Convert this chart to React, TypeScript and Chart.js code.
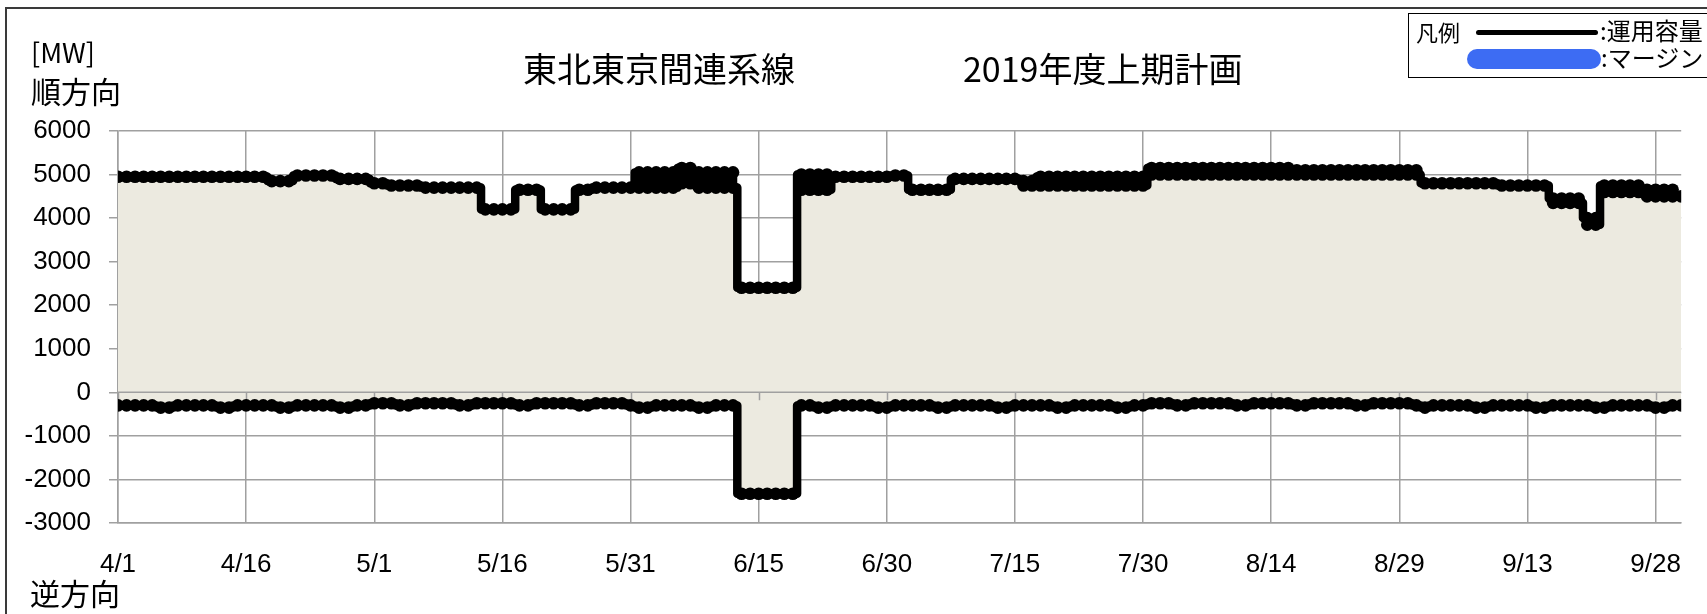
import React, { useEffect, useRef } from 'react';
import { Chart, registerables } from 'chart.js';

Chart.register(...registerables);

// x axis: day index from 4/1 (0) to 10/1 (183)
const xTickDays = [0, 15, 30, 45, 60, 75, 90, 105, 120, 135, 150, 165, 180];
const xTickLabels = ['4/1', '4/16', '5/1', '5/16', '5/31', '6/15', '6/30', '7/15', '7/30', '8/14', '8/29', '9/13', '9/28'];
const yMin = -3000;
const yMax = 6000;
const yStep = 1000;

// 順方向 運用容量: daily upper value (one row = one week, Mon..Sun)
const forwardHigh = [
  4950, 4950, 4950, 4950, 4950, 4950, 4950,
  4950, 4950, 4950, 4950, 4950, 4950, 4950,
  4950, 4950, 4950, 4950, 4850, 4850, 4850,
  4980, 4980, 4980, 4980, 4980, 4900, 4900,
  4900, 4900, 4800, 4800, 4750, 4750, 4750,
  4750, 4700, 4700, 4700, 4700, 4700, 4700,
  4700, 4200, 4200, 4200, 4200, 4650, 4650,
  4650, 4200, 4200, 4200, 4200, 4650, 4650,
  4700, 4700, 4700, 4700, 4700, 5050, 5050,
  5050, 5050, 5050, 5150, 5150, 5050, 5050,
  5050, 5050, 5050, 2400, 2400, 2400, 2400,
  2400, 2400, 2400, 5000, 5000, 5000, 5000,
  4950, 4950, 4950, 4950, 4950, 4950, 4950,
  4980, 4980, 4650, 4650, 4650, 4650, 4650,
  4900, 4900, 4900, 4900, 4900, 4900, 4900,
  4900, 4850, 4850, 4950, 4950, 4950, 4950,
  4950, 4950, 4950, 4950, 4950, 4950, 4950,
  4950, 4950, 5150, 5150, 5150, 5150, 5150,
  5150, 5150, 5150, 5150, 5150, 5150, 5150,
  5150, 5150, 5150, 5150, 5150, 5100, 5100,
  5100, 5100, 5100, 5100, 5100, 5100, 5100,
  5100, 5100, 5100, 5100, 5100, 5100, 4800,
  4800, 4800, 4800, 4800, 4800, 4800, 4800,
  4800, 4750, 4750, 4750, 4750, 4750, 4750,
  4450, 4450, 4450, 4450, 4000, 4000, 4750,
  4750, 4750, 4750, 4750, 4650, 4650, 4650,
  4650, 4500,
];

// 順方向 運用容量: daily lower value (within-day minimum)
const forwardLow = [
  4950, 4950, 4950, 4950, 4950, 4950, 4950,
  4950, 4950, 4950, 4950, 4950, 4950, 4950,
  4950, 4950, 4950, 4950, 4850, 4850, 4850,
  4980, 4980, 4980, 4980, 4980, 4900, 4900,
  4900, 4900, 4800, 4800, 4750, 4750, 4750,
  4750, 4700, 4700, 4700, 4700, 4700, 4700,
  4700, 4200, 4200, 4200, 4200, 4650, 4650,
  4650, 4200, 4200, 4200, 4200, 4650, 4650,
  4700, 4700, 4700, 4700, 4700, 4700, 4700,
  4700, 4700, 4700, 4800, 4800, 4700, 4700,
  4700, 4700, 4700, 2400, 2400, 2400, 2400,
  2400, 2400, 2400, 4650, 4650, 4650, 4650,
  4950, 4950, 4950, 4950, 4950, 4950, 4950,
  4980, 4980, 4650, 4650, 4650, 4650, 4650,
  4900, 4900, 4900, 4900, 4900, 4900, 4900,
  4900, 4750, 4750, 4750, 4750, 4750, 4750,
  4750, 4750, 4750, 4750, 4750, 4750, 4750,
  4750, 4750, 5000, 5000, 5000, 5000, 5000,
  5000, 5000, 5000, 5000, 5000, 5000, 5000,
  5000, 5000, 5000, 5000, 5000, 5000, 5000,
  5000, 5000, 5000, 5000, 5000, 5000, 5000,
  5000, 5000, 5000, 5000, 5000, 5000, 4800,
  4800, 4800, 4800, 4800, 4800, 4800, 4800,
  4800, 4750, 4750, 4750, 4750, 4750, 4750,
  4350, 4350, 4350, 4350, 3850, 3850, 4600,
  4600, 4600, 4600, 4600, 4500, 4500, 4500,
  4500, 4500,
];

// 逆方向 運用容量 (negative side)
const reverseCapacity = [
  -300, -300, -300, -300, -300, -350, -350,
  -300, -300, -300, -300, -300, -350, -350,
  -300, -300, -300, -300, -300, -350, -350,
  -300, -300, -300, -300, -300, -350, -350,
  -300, -300, -250, -250, -250, -300, -300,
  -250, -250, -250, -250, -250, -300, -300,
  -250, -250, -250, -250, -250, -300, -300,
  -250, -250, -250, -250, -250, -300, -300,
  -250, -250, -250, -250, -300, -350, -350,
  -300, -300, -300, -300, -300, -350, -350,
  -300, -300, -300, -2330, -2330, -2330, -2330,
  -2330, -2330, -2330, -300, -300, -350, -350,
  -300, -300, -300, -300, -300, -350, -350,
  -300, -300, -300, -300, -300, -350, -350,
  -300, -300, -300, -300, -300, -350, -350,
  -300, -300, -300, -300, -300, -350, -350,
  -300, -300, -300, -300, -300, -350, -350,
  -300, -300, -250, -250, -250, -300, -300,
  -250, -250, -250, -250, -250, -300, -300,
  -250, -250, -250, -250, -250, -300, -300,
  -250, -250, -250, -250, -250, -300, -300,
  -250, -250, -250, -250, -250, -300, -350,
  -300, -300, -300, -300, -300, -350, -350,
  -300, -300, -300, -300, -300, -350, -350,
  -300, -300, -300, -300, -300, -350, -350,
  -300, -300, -300, -300, -300, -350, -350,
  -300, -300,
];

const GRID = '#a0a0a0';
const FILL = '#ECEAE0';
const TICK_FONT = "'Liberation Sans', Arial, sans-serif";
const JP_FONT = "'Noto Sans CJK JP', 'Noto Sans', sans-serif";

const zeroAxisPlugin = {
  id: 'zeroAxis',
  beforeDatasetsDraw(chart: any) {
    const { ctx, chartArea, scales } = chart;
    const y0 = scales.y.getPixelForValue(0);
    ctx.save();
    ctx.strokeStyle = GRID;
    ctx.lineWidth = 1.5;
    ctx.beginPath();
    ctx.moveTo(chartArea.left, y0);
    ctx.lineTo(chartArea.right, y0);
    xTickDays.forEach((d) => {
      const px = Math.round(scales.x.getPixelForValue(d)) + 0.5;
      ctx.moveTo(px, y0);
      ctx.lineTo(px, y0 + 8);
    });
    ctx.stroke();
    ctx.restore();
  },
};

function Label(props: { text: string; left: number; cy: number; size: number }) {
  const { text, left, cy, size } = props;
  return (
    <div
      style={{
        position: 'absolute',
        left,
        top: cy - size * 0.65,
        fontSize: size,
        lineHeight: `${size * 1.2}px`,
        fontFamily: JP_FONT,
        color: '#000',
        whiteSpace: 'nowrap',
      }}
    >
      {text}
    </div>
  );
}

export default function App() {
  const canvasRef = useRef<HTMLCanvasElement | null>(null);

  useEffect(() => {
    if (!canvasRef.current) return;
    const upperPoints: { x: number; y: number }[] = [];
    forwardHigh.forEach((hi, d) => {
      upperPoints.push({ x: d, y: hi });
      if (forwardLow[d] !== hi) upperPoints.push({ x: d, y: forwardLow[d] });
    });
    const lowerPoints = reverseCapacity.map((v, d) => ({ x: d, y: v }));

    const lineStyle = {
      borderColor: '#000',
      backgroundColor: FILL,
      borderWidth: 8.5,
      pointRadius: 6.3,
      pointBackgroundColor: '#000',
      pointBorderWidth: 0,
      pointHoverRadius: 6.3,
      stepped: 'middle' as const,
      fill: 'origin',
      clip: 0,
      borderJoinStyle: 'round' as const,
    };

    const chart = new Chart(canvasRef.current, {
      type: 'line',
      data: {
        datasets: [
          { label: '運用容量（順方向）', data: upperPoints, ...lineStyle },
          { label: '運用容量（逆方向）', data: lowerPoints, ...lineStyle },
        ],
      },
      options: {
        responsive: false,
        animation: false,
        events: [],
        layout: { padding: { left: 0, right: 8, top: 131, bottom: 0 } },
        plugins: {
          legend: { display: false },
          tooltip: { enabled: false },
          title: { display: false },
          filler: { drawTime: 'beforeDatasetsDraw' },
        } as any,
        scales: {
          x: {
            type: 'linear',
            min: 0,
            max: 183,
            afterBuildTicks: (s: any) => {
              s.ticks = xTickDays.map((v) => ({ value: v }));
            },
            afterFit: (s: any) => {
              s.height = 91;
            },
            grid: { color: GRID, lineWidth: 1.5, drawTicks: false },
            border: { display: true, color: GRID, width: 1.5 },
            ticks: {
              autoSkip: false,
              maxRotation: 0,
              padding: 26,
              color: '#000',
              font: { family: TICK_FONT, size: 26 },
              callback: (_v: any, i: number) => xTickLabels[i],
            },
          },
          y: {
            min: yMin,
            max: yMax,
            afterFit: (s: any) => {
              s.width = 118;
            },
            grid: { color: GRID, lineWidth: 1.5, tickLength: 9 },
            border: { display: true, color: GRID, width: 1.5 },
            ticks: {
              stepSize: yStep,
              padding: 18,
              color: '#000',
              font: { family: TICK_FONT, size: 26 },
              callback: (v: any) => String(v),
            },
          },
        },
      },
      plugins: [zeroAxisPlugin],
    });
    return () => chart.destroy();
  }, []);

  return (
    <div
      style={{
        position: 'fixed',
        left: 0,
        top: 0,
        width: 1707,
        height: 614,
        background: '#fff',
        overflow: 'hidden',
      }}
    >
      <div
        style={{
          position: 'absolute',
          left: 5,
          top: 7,
          width: 1800,
          height: 700,
          borderTop: '2px solid #3a3a3a',
          borderLeft: '2px solid #3a3a3a',
        }}
      />
      <canvas
        ref={canvasRef}
        width={1707}
        height={614}
        style={{ position: 'absolute', left: 0, top: 0, width: 1707, height: 614 }}
      />
      <Label text="東北東京間連系線" left={523} cy={70} size={34} />
      <Label text="2019年度上期計画" left={963} cy={70} size={34} />
      <Label text="[MW]" left={31} cy={54} size={27} />
      <Label text="順方向" left={31} cy={91} size={30} />
      <Label text="逆方向" left={30} cy={593} size={30} />
      <div
        style={{
          position: 'absolute',
          left: 1408,
          top: 13,
          width: 400,
          height: 65,
          boxSizing: 'border-box',
          border: '1.5px solid #000',
          background: '#fff',
        }}
      />
      <Label text="凡例" left={1416} cy={32} size={22} />
      <div
        style={{
          position: 'absolute',
          left: 1476,
          top: 30,
          width: 122,
          height: 5,
          borderRadius: 3,
          background: '#000',
        }}
      />
      <Label text=":運用容量" left={1600} cy={32} size={24} />
      <div
        style={{
          position: 'absolute',
          left: 1467,
          top: 49,
          width: 134,
          height: 20,
          borderRadius: 10,
          background: '#3D6CF3',
        }}
      />
      <Label text=":マージン" left={1601} cy={59} size={24} />
    </div>
  );
}
